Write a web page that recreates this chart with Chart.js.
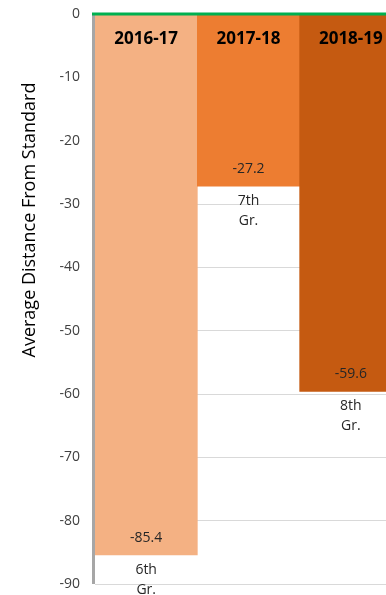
<!DOCTYPE html>
<html>
<head>
<meta charset="utf-8">
<script src="https://cdn.jsdelivr.net/npm/chart.js@4"></script>
<style>
html,body{margin:0;padding:0;background:#fff;overflow:hidden;width:386px;height:595px;}
#wrap{position:relative;width:402px;height:595px;}
</style>
</head>
<body>
<div id="wrap"><canvas id="chart"></canvas></div>
<script>
// Data
let years=["2016-17","2017-18","2018-19"];
let grades=["6th Gr.","7th Gr.","8th Gr."];
let distance=[-85.4,-27.2,-59.6];
let barColors=["#F4B183","#ED7D31","#C55A11"];
let yTitle="Average Distance From Standard";

// Labels on bars + zero line + left axis + axis title
let barText={
    id:"barText",
    afterDatasetsDraw(chart){
        let ctx=chart.ctx, y=chart.scales.y, area=chart.chartArea;
        let meta=chart.getDatasetMeta(0);
        ctx.save();
        // left axis line
        ctx.strokeStyle="#a6a6a6"; ctx.lineWidth=3;
        ctx.beginPath(); ctx.moveTo(area.left-1.5,area.top); ctx.lineTo(area.left-1.5,area.bottom); ctx.stroke();
        // zero line
        let y0=y.getPixelForValue(0);
        ctx.strokeStyle="#00B050"; ctx.lineWidth=3;
        ctx.beginPath(); ctx.moveTo(area.left-3,y0); ctx.lineTo(area.right,y0); ctx.stroke();
        ctx.textAlign="center"; ctx.textBaseline="middle";
        meta.data.forEach((bar,i)=>{
            ctx.fillStyle="#000";
            ctx.font="bold 17px 'Open Sans'";
            ctx.fillText(years[i],bar.x,y0+25);
            ctx.fillStyle="#262626";
            ctx.font="14px 'Open Sans'";
            ctx.fillText(distance[i].toFixed(1),bar.x,bar.y-17);
            let parts=grades[i].split(" ");
            ctx.fillText(parts[0],bar.x,bar.y+15);
            ctx.fillText(parts[1],bar.x,bar.y+35);
        });
        // axis title
        ctx.translate(30,220); ctx.rotate(-Math.PI/2);
        ctx.fillStyle="#000"; ctx.font="18px 'Open Sans'";
        ctx.fillText(yTitle,0,0);
        ctx.restore();
    }
};

let ctx=document.getElementById("chart").getContext("2d");
let chart=new Chart(ctx,{
    type:"bar",
    data:{labels:years,datasets:[{data:distance,backgroundColor:barColors,borderWidth:0,barPercentage:1,categoryPercentage:1}]},
    options:{
        responsive:true,maintainAspectRatio:false,animation:false,
        layout:{padding:{top:14,bottom:11,left:0,right:0}},
        plugins:{legend:{display:false},tooltip:{enabled:false}},
        scales:{
            x:{display:false},
            y:{
                min:-90,max:0,
                afterFit(s){s.width=95;s.paddingTop=0;s.paddingBottom=0;},
                ticks:{stepSize:10,color:"#404040",padding:15,font:{family:"Open Sans",size:14}},
                grid:{color:"#d9d9d9",lineWidth:1,drawTicks:false},
                border:{display:false}
            }
        }
    },
    plugins:[barText]
});
</script>
</body>
</html>
